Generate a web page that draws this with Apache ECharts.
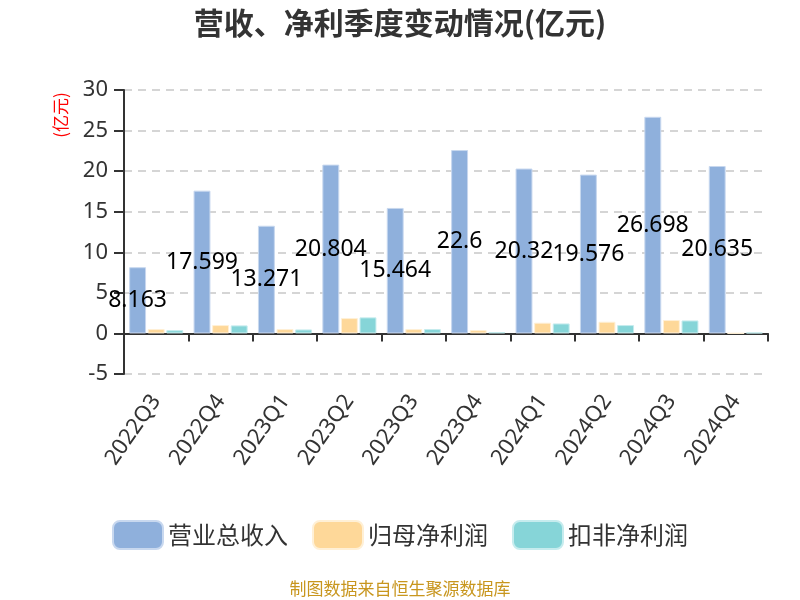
<!DOCTYPE html>
<html><head><meta charset="utf-8">
<script src="https://cdn.jsdelivr.net/npm/echarts@6/dist/echarts.min.js"></script>
<style>html,body{margin:0;padding:0;background:#fff}#c{width:800px;height:600px}</style>
</head><body><div id="c"></div>
<script>
const categories = ['2022Q3','2022Q4','2023Q1','2023Q2','2023Q3','2023Q4','2024Q1','2024Q2','2024Q3','2024Q4'];
const revenue = [8.163,17.599,13.271,20.804,15.464,22.6,20.32,19.576,26.698,20.635];
const netProfit = [0.54,1.03,0.54,1.89,0.54,0.41,1.32,1.44,1.65,0.03];
const deductedProfit = [0.41,0.99,0.49,1.98,0.54,0.16,1.23,1.03,1.60,0.12];
const yTicks = {min:-5,max:30,interval:5};
const FONT = '"Noto Sans CJK SC","Noto Sans",sans-serif';
const NUMFONT = '"Noto Sans","Open Sans",sans-serif';
const chart = echarts.init(document.getElementById('c'));
chart.setOption({
  animation:false,
  textStyle:{fontFamily:FONT},
  title:{text:'营收、净利季度变动情况(亿元)',left:'center',top:3,textStyle:{fontSize:30,fontWeight:'bold',color:'#333',fontFamily:FONT}},
  graphic:[
    {type:'text',x:61,y:115,rotation:Math.PI/2,style:{text:'(亿元)',fill:'#ff0000',fontSize:17,fontFamily:FONT,textAlign:'center',textVerticalAlign:'middle'}},
    {type:'text',x:400,y:589,style:{text:'制图数据来自恒生聚源数据库',fill:'#c8961e',fontSize:17,fontFamily:FONT,textAlign:'center',textVerticalAlign:'middle'}}
  ],
  legend:{top:515,left:'center',itemWidth:50,itemHeight:28,itemGap:24,textStyle:{fontSize:24,color:'#333',fontFamily:FONT},
    data:['营业总收入','归母净利润','扣非净利润']},
  grid:{left:124,right:32,top:90,bottom:226,containLabel:false},
  xAxis:{type:'category',data:categories,
    axisLine:{onZero:true,lineStyle:{color:'#333',width:2}},
    axisTick:{show:true,length:8,lineStyle:{color:'#333',width:2}},
    axisLabel:{rotate:55,fontSize:22,color:'#333',margin:23,interval:0,fontFamily:NUMFONT}},
  yAxis:{type:'value',min:yTicks.min,max:yTicks.max,interval:yTicks.interval,
    axisLine:{show:true,lineStyle:{color:'#333',width:2}},
    axisTick:{show:true,length:10,lineStyle:{color:'#333',width:2}},
    axisLabel:{fontSize:22,color:'#333',margin:16,fontFamily:NUMFONT},
    splitLine:{show:true,lineStyle:{type:[8,6],color:'#c8c8c8',width:1.5}}},
  series:[
    {name:'营业总收入',type:'bar',data:revenue,barGap:'10%',barCategoryGap:'16%',
      itemStyle:{color:'#8fb0dc',borderColor:'#c8d8ef',borderWidth:1},
      label:{show:true,position:'inside',color:'#000',fontSize:23,fontFamily:NUMFONT}},
    {name:'归母净利润',type:'bar',data:netProfit,
      itemStyle:{color:'#fed899',borderColor:'#fff0d6',borderWidth:1}},
    {name:'扣非净利润',type:'bar',data:deductedProfit,
      itemStyle:{color:'#86d5d8',borderColor:'#c6ecee',borderWidth:1}}
  ]
});
</script></body></html>
